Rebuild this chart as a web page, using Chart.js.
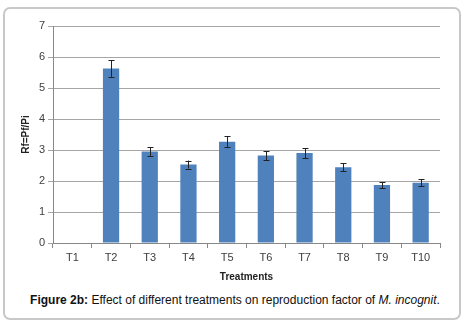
<!DOCTYPE html>
<html>
<head>
<meta charset="utf-8">
<script src="https://cdn.jsdelivr.net/npm/chart.js@4"></script>
<style>
    body { margin: 0; background: #fff; }
    #wrap { position: relative; width: 466px; height: 329px; }
    #frame {
        position: absolute; left: 3px; top: 7px; width: 454px; height: 309px;
        border: 2px solid #c8c8c8; border-radius: 7px;
    }
    #grafico { position: absolute; left: 0; top: 0; }
    #legenda {
        position: absolute; left: 0; top: 293px; width: 470px; text-align: center;
        font-family: 'Liberation Sans', Arial, sans-serif; font-size: 12px; color: #111;
    }
</style>
</head>
<body>
<div id="wrap">
    <div id="frame"></div>
    <canvas id="grafico" width="466" height="290"></canvas>
    <div id="legenda"><b>Figure 2b:</b> Effect of different treatments on reproduction factor of <i>M. incognit</i>.</div>
</div>
<script>
// Dados
const tratamentos = ['T1', 'T2', 'T3', 'T4', 'T5', 'T6', 'T7', 'T8', 'T9', 'T10'];
const valoresRf = [0, 5.63, 2.95, 2.53, 3.27, 2.82, 2.90, 2.44, 1.87, 1.94];
const errosRf = [0, 0.27, 0.14, 0.13, 0.17, 0.14, 0.16, 0.13, 0.10, 0.11];
const ticksY = [0, 1, 2, 3, 4, 5, 6, 7];

// Plugin simples para desenhar as barras de erro
const barrasErro = {
    id: 'barrasErro',
    afterDatasetsDraw(chart) {
        const ctx = chart.ctx;
        const meta = chart.getDatasetMeta(0);
        const y = chart.scales.y;
        ctx.save();
        ctx.strokeStyle = '#222';
        ctx.lineWidth = 1;
        meta.data.forEach((barra, i) => {
            const erro = errosRf[i];
            if (!erro) return;
            const x = Math.round(barra.x) + 0.5;
            const topo = y.getPixelForValue(valoresRf[i] + erro);
            const base = y.getPixelForValue(valoresRf[i] - erro);
            ctx.beginPath();
            ctx.moveTo(x, topo);
            ctx.lineTo(x, base);
            ctx.moveTo(x - 3, Math.round(topo) + 0.5);
            ctx.lineTo(x + 3, Math.round(topo) + 0.5);
            ctx.moveTo(x - 3, Math.round(base) + 0.5);
            ctx.lineTo(x + 3, Math.round(base) + 0.5);
            ctx.stroke();
        });
        ctx.restore();
    }
};

const fonte = "'Liberation Sans', Arial, sans-serif";

new Chart(document.getElementById('grafico'), {
    type: 'bar',
    data: {
        labels: tratamentos,
        datasets: [{
            data: valoresRf,
            backgroundColor: '#4f81bd',
            borderColor: '#4f81bd',
            borderWidth: 0,
            categoryPercentage: 1,
            barPercentage: 0.42
        }]
    },
    options: {
        responsive: false,
        animation: false,
        layout: { padding: { left: 10, right: 26, top: 26, bottom: 0 } },
        plugins: {
            legend: { display: false },
            tooltip: { enabled: false }
        },
        scales: {
            x: {
                grid: {
                    drawOnChartArea: false,
                    drawTicks: true,
                    tickLength: 5,
                    color: '#888'
                },
                border: { color: '#888' },
                ticks: {
                    color: '#404040',
                    padding: 3,
                    font: { family: fonte, size: 11 }
                },
                title: {
                    display: true,
                    text: 'Treatments',
                    color: '#222',
                    font: { family: fonte, size: 10, weight: 'bold' },
                    padding: { top: 0, bottom: 7 }
                },
                afterFit(scale) { scale.height = 47; }
            },
            y: {
                min: 0,
                max: 7,
                afterBuildTicks(scale) {
                    scale.ticks = ticksY.map(v => ({ value: v }));
                },
                grid: {
                    color: '#a6a6a6',
                    tickLength: 5
                },
                border: { color: '#888' },
                ticks: {
                    color: '#404040',
                    padding: 3,
                    font: { family: fonte, size: 11 }
                },
                title: {
                    display: true,
                    text: 'Rf=Pf/Pi',
                    color: '#222',
                    font: { family: fonte, size: 10, weight: 'bold' },
                    padding: { top: 10, bottom: 0 }
                },
                afterFit(scale) { scale.width = 43; }
            }
        }
    },
    plugins: [barrasErro]
});
</script>
</body>
</html>
